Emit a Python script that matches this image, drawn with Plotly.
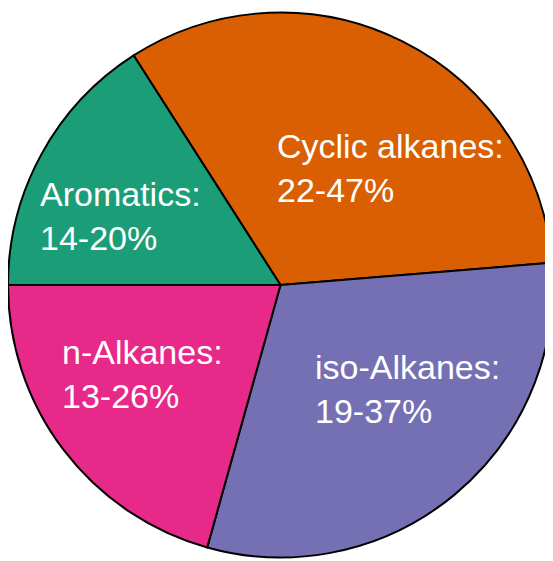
import plotly.graph_objects as go

# slices in clockwise order, starting from the green/orange boundary
labels = ["Cyclic alkanes", "iso-Alkanes", "n-Alkanes", "Aromatics"]
ranges = ["22-47%", "19-37%", "13-26%", "14-20%"]
shares = [32.75, 30.64, 20.67, 15.94]  # slice sizes (% of circle)
colors = ["#D95F02", "#7570B3", "#E7298A", "#1B9E77"]

# page body has an 8px margin, so the figure is sized to fit inside the window
W, H = 545, 553
# where each label block starts: left edge and top of first line, in pixels
label_pos = [(267, 117), (305, 338), (52, 323), (30, 165)]

fig = go.Figure(
    go.Pie(
        labels=labels, values=shares, sort=False, direction="clockwise",
        rotation=-32.6, textinfo="none", hoverinfo="label",
        marker=dict(colors=colors, line=dict(color="black", width=2)),
        domain=dict(x=[0, 1], y=[3.5 / H, (H - 4.5) / H]),
        showlegend=False,
    )
)

for lab, rng, (px, py) in zip(labels, ranges, label_pos):
    fig.add_annotation(
        text=f"{lab}:<br>{rng}", x=px / W, y=1 - py / H, xref="paper", yref="paper",
        xanchor="left", yanchor="top", align="left", showarrow=False,
        font=dict(family="Liberation Sans, Arial, sans-serif", size=34, color="white"),
    )

fig.update_layout(width=W, height=H, margin=dict(l=0, r=0, t=0, b=0),
                  paper_bgcolor="white", plot_bgcolor="white")

fig.write_html("out.html")
